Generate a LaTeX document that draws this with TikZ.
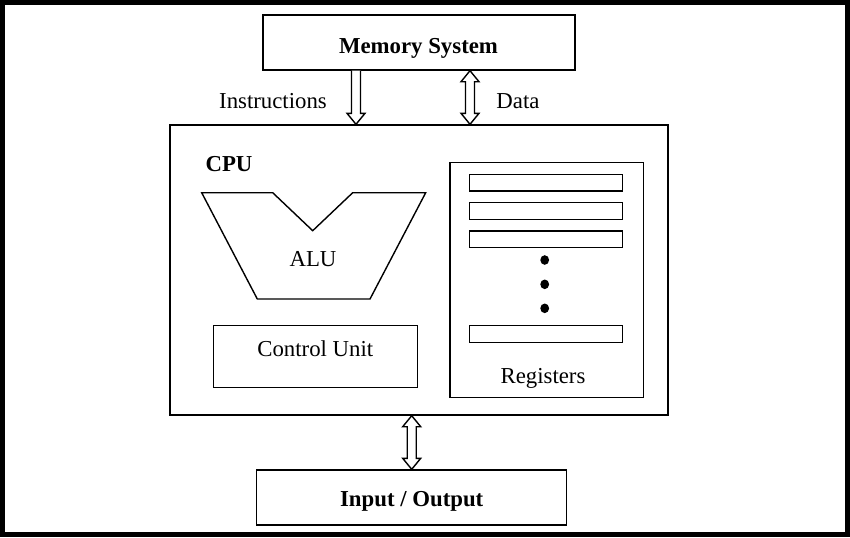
\documentclass[tikz,border=0pt]{standalone}
\usepackage{fontspec}
\setmainfont{Liberation Serif}
\usetikzlibrary{calc}
\begin{document}
\begin{tikzpicture}[x=0.5pt,y=-0.5pt,
  box/.style={draw,line width=0.7pt,inner sep=0pt,minimum width=#1},
  lbl/.style={anchor=base,inner sep=0pt,font=\fontsize{11.4}{13}\selectfont},
  blbl/.style={lbl,font=\fontsize{11.4}{13}\selectfont\bfseries},
  regbar/.style={draw,line width=0.7pt,inner sep=0pt,minimum width=76.7pt,minimum height=8.35pt},
  arr/.style={line width=0.7pt,fill=white,line join=miter}]
\useasboundingbox (0,0) rectangle (850,537);
\draw[line width=2.5pt] (2.5,2.5) rectangle (847.5,534.5);
% boxes
\node[box=156pt,minimum height=27.5pt] (mem) at (419,42.5) {};
\node[box=249pt,minimum height=145pt] (cpu) at (419,270) {};
\node[box=155pt,minimum height=27.5pt] (io) at (411.7,497.5) {};
\node[box=102pt,minimum height=30.8pt] (cu) at (315.3,356.5) {};
\node[box=96.7pt,minimum height=117.3pt] (reg) at (546.7,280) {};
\node[regbar] (r1) at (546,182.7) {};
\node[regbar] (r2) at (546,211) {};
\node[regbar] (r3) at (546,239.3) {};
\node[regbar] (r4) at (546,334) {};
\fill (544.7,260) coordinate (d1) ellipse (2.2pt and 2.4pt);
\fill (544.7,284.3) coordinate (d2) ellipse (2.2pt and 2.4pt);
\fill (544.7,308.3) coordinate (d3) ellipse (2.2pt and 2.4pt);
% ALU
\draw[line width=0.7pt,line join=miter] (201.7,192.7) -- (272.7,192.7) -- (312.7,230.7) -- (352.7,192.7) -- (425.7,192.7) -- (370,299) -- (257.3,299) -- cycle;
% labels
\node[blbl] (memt) at (418.5,53) {Memory System};
\node[lbl] (instr) at (273,108) {Instructions};
\node[lbl] (data) at (518,108) {Data};
\node[blbl] (cput) at (229,171.7) {CPU};
\node[lbl] (alut) at (313,266.7) {ALU};
\node[lbl] (cut) at (315.3,356.7) {Control Unit};
\node[lbl] (regt) at (543,383) {Registers};
\node[blbl] (iot) at (411.7,506) {Input / Output};
% arrow anchors
\coordinate (ia) at (mem.south -| 356,0);
\coordinate (ib) at (cpu.north -| 356,0);
\coordinate (da) at (mem.south -| 470,0);
\coordinate (db) at (cpu.north -| 470,0);
\coordinate (oa) at (cpu.south -| io.north);
\coordinate (ob) at (io.north);
% instructions arrow (down)
\draw[arr] let \p1=(ia), \p2=(ib) in
  (\x1-2.25pt,\y1) -- (\x1-2.25pt,\y2+5.5pt) -- (\x1-4.5pt,\y2+5.5pt) -- (\x2,\y2)
  -- (\x1+4.5pt,\y2+5.5pt) -- (\x1+2.25pt,\y2+5.5pt) -- (\x1+2.25pt,\y1);
% data arrow (double)
\draw[arr] let \p1=(da), \p2=(db) in
  (\x1,\y1) -- (\x1-4.5pt,\y1-5.5pt) -- (\x1-2.25pt,\y1-5.5pt) -- (\x1-2.25pt,\y2+5.5pt)
  -- (\x1-4.5pt,\y2+5.5pt) -- (\x2,\y2) -- (\x1+4.5pt,\y2+5.5pt) -- (\x1+2.25pt,\y2+5.5pt)
  -- (\x1+2.25pt,\y1-5.5pt) -- (\x1+4.5pt,\y1-5.5pt) -- cycle;
% io arrow (double)
\draw[arr] let \p1=(oa), \p2=(ob) in
  (\x1,\y1) -- (\x1-4.5pt,\y1-5.5pt) -- (\x1-2.25pt,\y1-5.5pt) -- (\x1-2.25pt,\y2+5.5pt)
  -- (\x1-4.5pt,\y2+5.5pt) -- (\x2,\y2) -- (\x1+4.5pt,\y2+5.5pt) -- (\x1+2.25pt,\y2+5.5pt)
  -- (\x1+2.25pt,\y1-5.5pt) -- (\x1+4.5pt,\y1-5.5pt) -- cycle;
\end{tikzpicture}
\end{document}
